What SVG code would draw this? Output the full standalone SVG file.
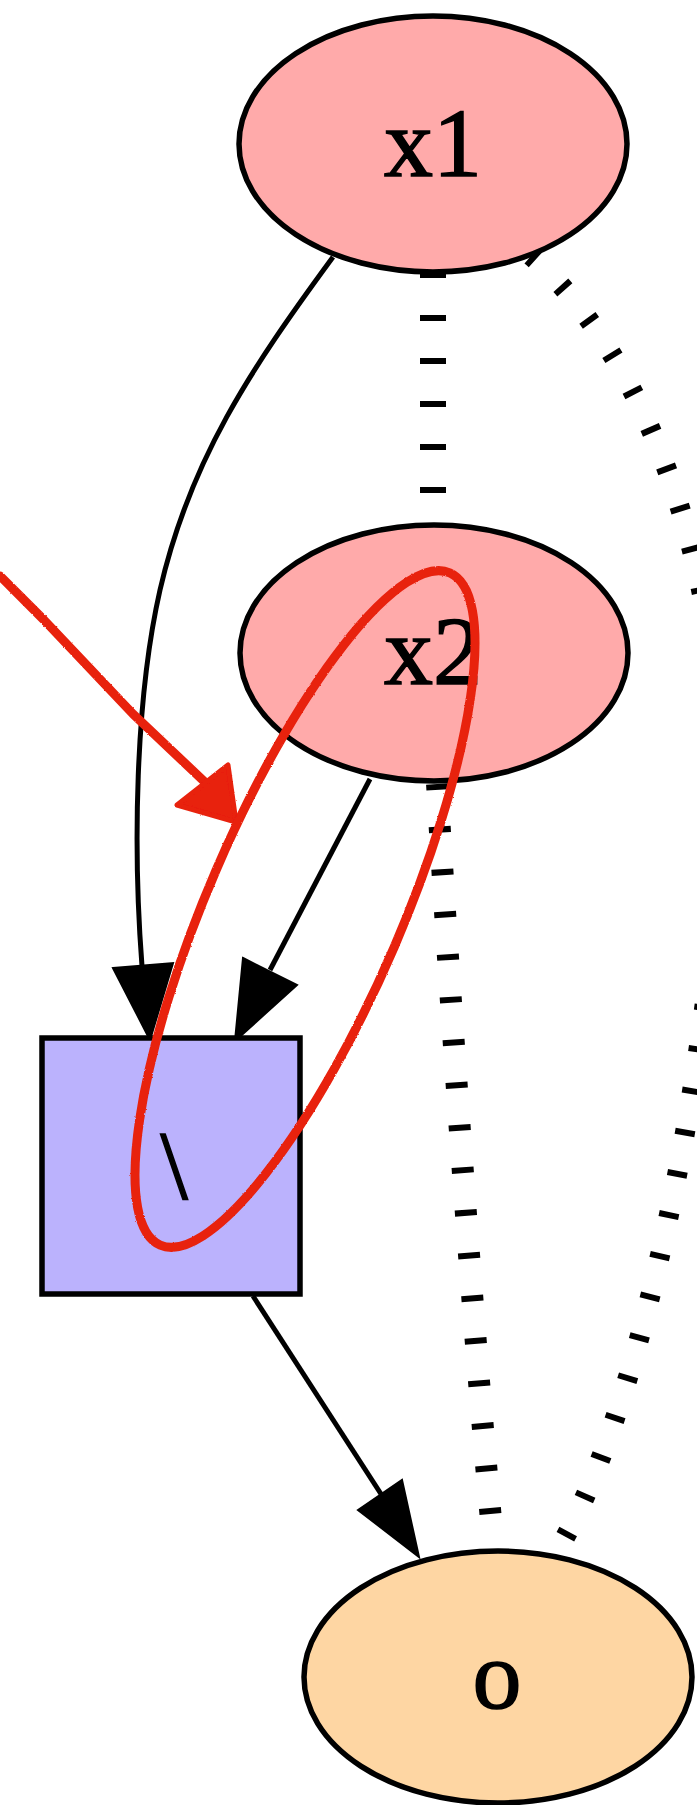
<svg xmlns="http://www.w3.org/2000/svg" width="697" height="1805" viewBox="0 0 697 1805">
  <style>
    .shape { stroke: #000; stroke-width: 5.5; }
    .label { font-family: "Liberation Serif", "Times New Roman", serif; font-size: 98px; fill: #000; stroke: #000; stroke-width: 1.5; text-anchor: middle; }
    .edge { fill: none; stroke: #000; stroke-width: 5; }
    .head { fill: #000; stroke: #000; stroke-width: 2; stroke-linejoin: miter; }
    .dots { fill: none; stroke: #000; stroke-width: 22; }
    .mark { fill: none; stroke: #e8200c; stroke-width: 9; stroke-linecap: round; stroke-linejoin: round; }
    .mark-fill { fill: #e8200c; stroke: #e8200c; stroke-width: 5; stroke-linejoin: round; }
  </style>
  <defs>
    <!-- slightly ragged edge for the marker strokes -->
    <filter id="rough" x="-10%" y="-10%" width="120%" height="120%">
      <feTurbulence type="fractalNoise" baseFrequency="0.9" numOctaves="2" seed="3" result="noise"/>
      <feDisplacementMap in="SourceGraphic" in2="noise" scale="2" xChannelSelector="R" yChannelSelector="G"/>
    </filter>
  </defs>

  <rect width="697" height="1805" fill="#fff"/>

  <g id="edges">
    <!-- x1 -> \ -->
    <path class="edge" d="M333,257 C250,370 190,460 160,590 C135,700 133,850 142,966"/>
    <polygon class="head" points="113,968 173,963 150,1040"/>
    <!-- x2 -> \ -->
    <path class="edge" d="M370,779 L270,970"/>
    <polygon class="head" points="243,958 297,985 235,1041"/>
    <!-- \ -> o -->
    <path class="edge" d="M253,1296 L381,1494"/>
    <polygon class="head" points="358,1510 402,1480 419,1557"/>
    <!-- x1 .. x2 -->
    <path class="dots" style="stroke-width:26" stroke-dasharray="6 37" d="M433,272 L433,500"/>
    <!-- x2 .. o -->
    <path class="dots" stroke-dasharray="6 36.7" stroke-dashoffset="-1" d="M437,783 C447,950 470,1300 494,1552"/>
    <!-- x1 .. o -->
    <path class="dots" style="stroke-width:20" stroke-dasharray="6 36" d="M531,256 C640,350 725,560 720,800 C720,1000 650,1400 556,1553"/>
  </g>

  <g id="node-x1">
    <ellipse class="shape" cx="433" cy="144" rx="194" ry="128" fill="#ffaaaa"/>
    <text class="label" x="433" y="176">x1</text>
  </g>

  <g id="node-x2">
    <ellipse class="shape" cx="434" cy="653" rx="194" ry="128" fill="#ffaaaa"/>
    <text class="label" x="433" y="684">x2</text>
  </g>

  <g id="node-div">
    <rect class="shape" x="42" y="1038" width="258" height="256" fill="#bbb2fd"/>
    <text class="label" x="174" y="1198">\</text>
  </g>

  <g id="node-o">
    <ellipse class="shape" cx="498" cy="1677" rx="194" ry="126" fill="#fed6a3"/>
    <text class="label" x="497" y="1708">o</text>
  </g>

  <g id="annotation" filter="url(#rough)">
    <path class="mark" d="M0,576 L44,620 L133,714 L209,786"/>
    <polygon class="mark-fill" points="177,805 228,765 236,822"/>
    <ellipse class="mark" cx="305" cy="909" rx="97" ry="366" transform="rotate(23.3 305 909)"/>
  </g>
</svg>
